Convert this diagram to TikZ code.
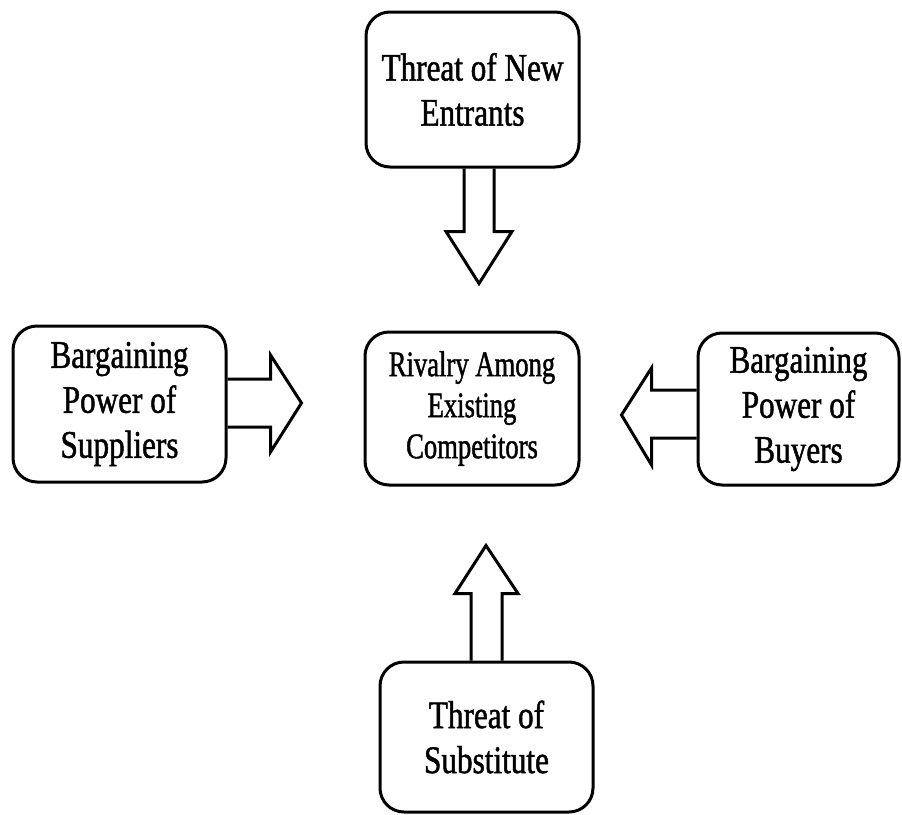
\documentclass[tikz,border=0pt]{standalone}
\usepackage{fontspec}
\setmainfont{Liberation Serif}[FakeStretch=0.8, FakeBold=1.2]
\newfontfamily\narrowserif{Liberation Serif}[FakeStretch=0.74, FakeBold=1.2]
\usetikzlibrary{calc}
\begin{document}
\begin{tikzpicture}[x=1pt,y=-1pt,
  force/.style={draw=black, line width=3pt, rounded corners=24pt, fill=white,
    inner sep=0pt, align=center, text=black,
    font=\fontsize{39pt}{45pt}\selectfont},
  blockarrow/.style={draw=black, line width=3pt, line join=miter}]
\useasboundingbox[fill=white] (0,0) rectangle (902,814);

% the five forces
\node[force, minimum width=213pt, minimum height=155pt] (entrants) at (472.5,89.5)
  {Threat of New\\Entrants};
\node[force, minimum width=213pt, minimum height=156pt] (suppliers) at (119.5,404)
  {Bargaining\\Power of\\Suppliers};
\node[force, minimum width=214pt, minimum height=153pt,
      font=\narrowserif\fontsize{36pt}{41pt}\selectfont] (rivalry) at (472,408.5)
  {Rivalry Among\\Existing\\Competitors};
\node[force, minimum width=201pt, minimum height=152pt] (buyers) at (798.5,409)
  {Bargaining\\Power of\\Buyers};
\node[force, minimum width=213pt, minimum height=150pt] (substitute) at (486.5,737)
  {Threat of\\Substitute};

% hollow block arrows pointing at the rivalry box
\draw[blockarrow, shift={(entrants.south)}]
  (-8.5,0) -- (-8.5,63) -- (-26.5,63) -- (6.5,115) -- (39.5,63) -- (21.5,63) -- (21.5,0);
\draw[blockarrow, shift={(suppliers.east)}]
  (0,-25) -- (43,-25) -- (43,-49) -- (74,-1) -- (43,48) -- (43,23) -- (0,23);
\draw[blockarrow, shift={(buyers.west)}]
  (0,-19) -- (-45,-19) -- (-45,-41) -- (-75,6) -- (-45,56) -- (-45,29) -- (0,29);
\draw[blockarrow, shift={(substitute.north)}]
  (-15.5,0) -- (-15.5,-67) -- (-31.5,-67) -- (-0.5,-115) -- (31.5,-67) -- (15.5,-67) -- (15.5,0);
\end{tikzpicture}
\end{document}
